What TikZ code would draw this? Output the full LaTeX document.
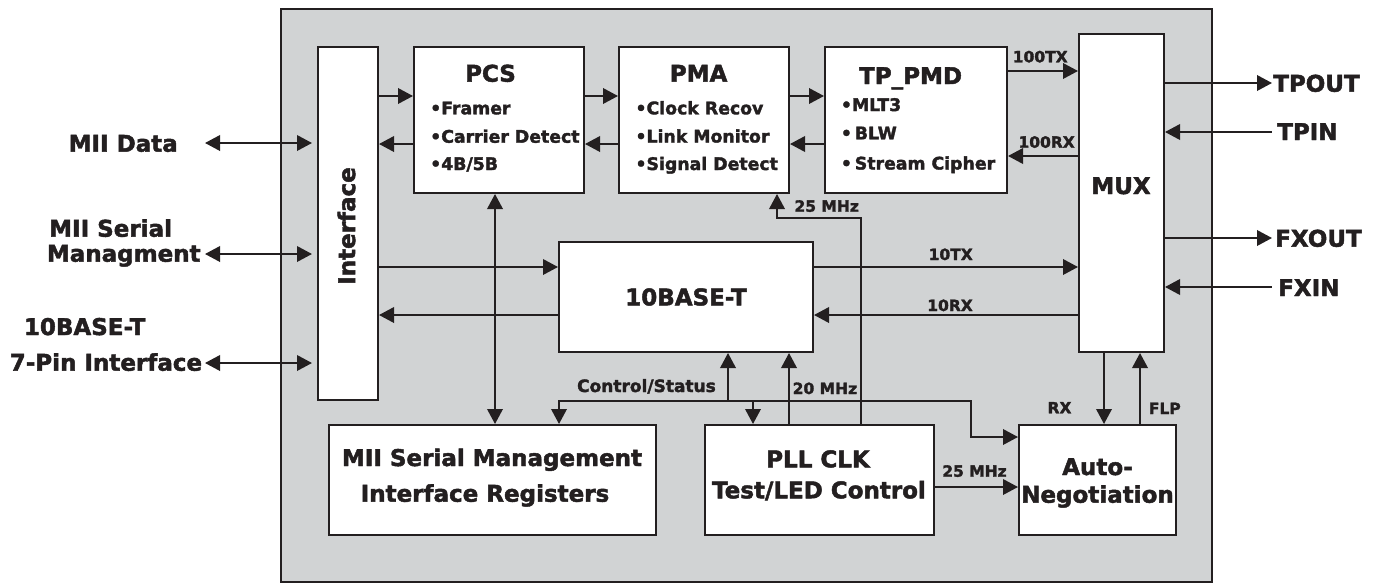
\documentclass[tikz,border=0pt]{standalone}
\usepackage{fontspec}
\setmainfont{DejaVu Sans}[BoldFeatures={FakeBold=2}]
\usetikzlibrary{arrows.meta}
\definecolor{ink}{HTML}{231F20}
\definecolor{panel}{HTML}{D1D3D4}
\newcommand\fbig{\fontsize{23}{27}\selectfont\bfseries}
\newcommand\fmid{\fontsize{17.3}{20}\selectfont\bfseries}
\newcommand\fsml{\fontsize{15.5}{18}\selectfont\bfseries}
\newcommand\fctl{\fontsize{17}{20}\selectfont\bfseries}
\begin{document}
\begin{tikzpicture}[x=1pt,y=-1pt,
  box/.style={draw=ink, line width=2pt, fill=white, inner sep=0pt},
  lbl/.style={inner sep=0pt, text=ink, anchor=base},
  conn/.style={draw=ink, line width=2pt},
  >={Triangle[length=15pt,width=15.5pt]}]
\useasboundingbox (0,0) rectangle (1375,584);
% frame
\node[draw=ink, line width=2pt, fill=panel, inner sep=0pt, minimum width=931pt, minimum height=573pt] (frame) at (746.5,295.5) {};
% boxes
\node[box, minimum width=60pt, minimum height=353pt] (iface) at (348,223.5) {};
\node[box, minimum width=170pt, minimum height=146pt] (pcs) at (499,120) {};
\node[box, minimum width=170pt, minimum height=146pt] (pma) at (704,120) {};
\node[box, minimum width=182pt, minimum height=146pt] (tpmd) at (916,120) {};
\node[box, minimum width=85pt, minimum height=318pt] (mux) at (1121.5,193) {};
\node[box, minimum width=254pt, minimum height=110pt, font=\fbig, text=ink] (tenb) at (686,297) {10BASE-T};
\node[box, minimum width=327pt, minimum height=110pt] (mii) at (492.5,480) {};
\node[box, minimum width=229pt, minimum height=110pt] (pll) at (819.5,480) {};
\node[box, minimum width=157pt, minimum height=110pt] (auto) at (1097.5,480) {};
% texts in boxes
\node[lbl, font=\fbig] (tPCS) at (490.5,81.7) {PCS};
\node[lbl, font=\fbig] (tPMA) at (698.6,81.7) {PMA};
\node[lbl, font=\fbig] (tTPMD) at (910.6,84) {TP\_PMD};
\node[lbl, font=\fbig] (tMUX) at (1121,194) {MUX};
\node[lbl, font=\fbig, rotate=90, anchor=center] (tIface) at (346.5,226) {Interface};
\node[lbl, anchor=base west, font=\fmid] (b1) at (430,114.3) {•Framer};
\node[lbl, anchor=base west, font=\fmid] (b2) at (430,142.7) {•Carrier Detect};
\node[lbl, anchor=base west, font=\fmid] (b3) at (430,170) {•4B/5B};
\node[lbl, anchor=base west, font=\fmid] (b4) at (635.3,114.3) {•Clock Recov};
\node[lbl, anchor=base west, font=\fmid] (b5) at (635.3,142.5) {•Link Monitor};
\node[lbl, anchor=base west, font=\fmid] (b6) at (635.3,170) {•Signal Detect};
\node[lbl, anchor=base west, font=\fmid] (b7) at (840.7,111) {•MLT3};
\node[lbl, anchor=base west, font=\fmid] (b8) at (840.7,139.3) {•\,BLW};
\node[lbl, anchor=base west, font=\fmid] (b9) at (840.7,169.5) {•\,Stream Cipher};
\node[lbl, font=\fbig] (m1) at (492,466) {MII Serial Management};
\node[lbl, font=\fbig] (m2) at (485,501.7) {Interface Registers};
\node[lbl, font=\fbig] (p1) at (818,467.3) {PLL CLK};
\node[lbl, font=\fbig] (p2) at (819,498.3) {Test/LED Control};
\node[lbl, font=\fbig] (a1) at (1097.5,475) {Auto-};
\node[lbl, font=\fbig] (a2) at (1097.5,502.7) {Negotiation};
% outside labels
\node[lbl, anchor=base east, font=\fbig] (lMd) at (178,151.7) {MII Data};
\node[lbl, anchor=base west, font=\fbig] (lMs1) at (49,236.7) {MII Serial};
\node[lbl, anchor=base west, font=\fbig] (lMs2) at (46.7,261.7) {Managment};
\node[lbl, anchor=base west, font=\fbig] (l7a) at (23.7,335) {10BASE-T};
\node[lbl, anchor=base west, font=\fbig] (l7b) at (9.6,370.7) {7-Pin Interface};
\node[lbl, anchor=base west, font=\fbig] (rTo) at (1273,91.7) {TPOUT};
\node[lbl, anchor=base west, font=\fbig] (rTi) at (1277,140) {TPIN};
\node[lbl, anchor=base west, font=\fbig] (rFo) at (1275,246.7) {FXOUT};
\node[lbl, anchor=base west, font=\fbig] (rFi) at (1278,296) {FXIN};
% connector labels
\node[lbl, font=\fsml] (c100tx) at (1040.2,62.3) {100TX};
\node[lbl, font=\fsml] (c100rx) at (1046.6,147.7) {100RX};
\node[lbl, font=\fsml] (c10tx) at (950.7,260) {10TX};
\node[lbl, font=\fsml] (c10rx) at (950,311) {10RX};
\node[lbl, anchor=base west, font=\fsml] (c25p) at (794.3,211.7) {25 MHz};
\node[lbl, anchor=base west, font=\fsml] (c20) at (792.5,394) {20 MHz};
\node[lbl, anchor=base east, font=\fctl] (cCtl) at (716,392) {Control/Status};
\node[lbl, font=\fsml] (c25a) at (974.5,476.7) {25 MHz};
\node[lbl, font=\fsml] (cRX) at (1059.5,413.3) {RX};
\node[lbl, font=\fsml] (cFLP) at (1164.8,414) {FLP};
% guide coordinates
\coordinate (yTx) at (0,96);
\coordinate (yRx) at (0,144);
\coordinate (y100tx) at (0,71);
\coordinate (y100rx) at (0,156);
\coordinate (yTpout) at (0,83);
\coordinate (yTpin) at (0,132);
\coordinate (yFxout) at (0,238);
\coordinate (yFxin) at (0,287);
\coordinate (y10tx) at (0,267);
\coordinate (y10rx) at (0,315);
\coordinate (yMd) at (0,143);
\coordinate (yMs) at (0,254);
\coordinate (y7p) at (0,363);
\coordinate (yBus) at (0,401);
\coordinate (yAnc) at (0,437);
\coordinate (y25a) at (0,487);
\coordinate (y25p) at (0,218);
\coordinate (xPcsV) at (495,0);
\coordinate (xBusL) at (559,0);
\coordinate (xUp) at (728,0);
\coordinate (xDn) at (753,0);
\coordinate (x20) at (789,0);
\coordinate (x25) at (861,0);
\coordinate (x25p) at (777,0);
\coordinate (xBusR) at (971,0);
\coordinate (xRX) at (1104,0);
\coordinate (xFLP) at (1140,0);
\coordinate (xL) at (205,0);
\coordinate (xR) at (1272,0);
% connectors
\draw[conn,->] (iface.east |- yTx) -- (pcs.west |- yTx);
\draw[conn,<-] (iface.east |- yRx) -- (pcs.west |- yRx);
\draw[conn,->] (pcs.east |- yTx) -- (pma.west |- yTx);
\draw[conn,<-] (pcs.east |- yRx) -- (pma.west |- yRx);
\draw[conn,->] (pma.east |- yTx) -- (tpmd.west |- yTx);
\draw[conn,<-] (pma.east |- yRx) -- (tpmd.west |- yRx);
\draw[conn,->] (tpmd.east |- y100tx) -- (mux.west |- y100tx);
\draw[conn,<-] (tpmd.east |- y100rx) -- (mux.west |- y100rx);
\draw[conn,->] (mux.east |- yTpout) -- (xR |- yTpout);
\draw[conn,<-] (mux.east |- yTpin) -- (xR |- yTpin);
\draw[conn,->] (mux.east |- yFxout) -- (xR |- yFxout);
\draw[conn,<-] (mux.east |- yFxin) -- (xR |- yFxin);
\draw[conn,->] (iface.east |- y10tx) -- (tenb.west |- y10tx);
\draw[conn,<-] (iface.east |- y10rx) -- (tenb.west |- y10rx);
\draw[conn,->] (tenb.east |- y10tx) -- (mux.west |- y10tx);
\draw[conn,<-] (tenb.east |- y10rx) -- (mux.west |- y10rx);
\draw[conn,<->,shorten >=5pt] (xL |- yMd) -- (iface.west |- yMd);
\draw[conn,<->,shorten >=5pt] (xL |- yMs) -- (iface.west |- yMs);
\draw[conn,<->,shorten >=5pt] (xL |- y7p) -- (iface.west |- y7p);
\draw[conn,<->] (pcs.south -| xPcsV) -- (mii.north -| xPcsV);
\draw[conn,<->] (mii.north -| xBusL) |- (xBusR |- yBus) |- (auto.west |- yAnc);
\draw[conn,->] (xUp |- yBus) -- (tenb.south -| xUp);
\draw[conn,->] (xDn |- yBus) -- (pll.north -| xDn);
\draw[conn,->] (pll.north -| x20) -- (tenb.south -| x20);
\draw[conn,->] (pll.north -| x25) |- (x25p |- y25p) -- (pma.south -| x25p);
\draw[conn,->] (pll.east |- y25a) -- (auto.west |- y25a);
\draw[conn,->] (mux.south -| xRX) -- (auto.north -| xRX);
\draw[conn,->] (auto.north -| xFLP) -- (mux.south -| xFLP);
\end{tikzpicture}
\end{document}
